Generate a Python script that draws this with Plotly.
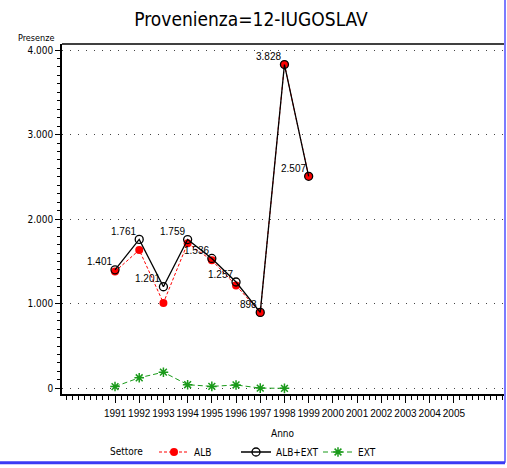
import plotly.graph_objects as go

anni = [1991, 1992, 1993, 1994, 1995, 1996, 1997, 1998, 1999]
alb_ext = [1401, 1761, 1201, 1759, 1536, 1257, 898, 3828, 2507]
alb = [1380, 1636, 1010, 1716, 1513, 1217, 895, 3828, 2507]
anni_ext = [1991, 1992, 1993, 1994, 1995, 1996, 1997, 1998]
ext = [21, 125, 191, 43, 23, 40, 3, 0]
tick_anni = list(range(1991, 2006))
etichette = ['{:,}'.format(v).replace(',', '.') for v in alb_ext]

FONT = "DejaVu Sans Condensed, Liberation Sans Narrow, DejaVu Sans, sans-serif"
NARROW = "Liberation Sans, Arial, sans-serif"
W, H = 507, 468
L, R, T, B = 62, 3, 44, 73

fig = go.Figure()

fig.add_trace(go.Scatter(
    x=anni, y=alb, name='ALB', mode='lines+markers',
    line=dict(color='#ff0000', width=1, dash='3px,2px'),
    marker=dict(symbol='circle', size=8, color='#ff0000'),
))
fig.add_trace(go.Scatter(
    x=anni, y=alb_ext, name='ALB+EXT', mode='lines+markers',
    line=dict(color='black', width=1.3),
    marker=dict(symbol='circle-open', size=8, color='black', line=dict(width=1.3)),
))
fig.add_trace(go.Scatter(
    x=anni_ext, y=ext, name='EXT', mode='lines+markers',
    line=dict(color='#1a9a1a', width=1, dash='5px,3px'),
    marker=dict(symbol='asterisk-open', size=8, color='#1a9a1a', line=dict(width=1.5, color='#1a9a1a')),
))

# etichette dei valori ALB+EXT, in alto a sinistra del punto
for a, v, t in zip(anni, alb_ext, etichette):
    fig.add_annotation(x=a, y=v, text=t, showarrow=False, xanchor='right', yanchor='middle',
                       xshift=-1, yshift=8, font=dict(family=NARROW, size=10, color='black'))

pw = W - L - R
ph = H - T - B

fig.update_layout(
    width=W, height=H,
    margin=dict(l=L, r=R, t=T, b=B),
    paper_bgcolor='white', plot_bgcolor='white',
    separators=',.',
    font=dict(family=FONT, size=10, color='black'),
    title=dict(text='Provenienza=12-IUGOSLAV', x=251 / W,
               xanchor='center', y=1 - 19 / H, yanchor='middle',
               font=dict(family=FONT, size=19, color='black')),
    xaxis=dict(
        range=[1988.81, 2007.07], tickvals=tick_anni, ticktext=[str(a) for a in tick_anni],
        tickangle=0, ticklabelstandoff=2,
        showgrid=False, zeroline=False,
        showline=True, linecolor='black', linewidth=1.5, mirror=False,
        ticks='outside', ticklen=7, tickcolor='black', tickwidth=1.3,
        minor=dict(dtick=0.25, tick0=1991, ticks='outside', ticklen=4, tickcolor='black', showgrid=False),
        tickfont=dict(family=NARROW, size=10),
    ),
    yaxis=dict(
        range=[-67, 4071], tickvals=[0, 1000, 2000, 3000, 4000], tickformat=',d',
        showgrid=True, gridcolor='#444444', gridwidth=1.2, griddash='1px,7px',
        zeroline=False, showline=True, linecolor='black', linewidth=1.5,
        ticks='outside', ticklen=5, tickcolor='black', tickwidth=1.3,
        minor=dict(dtick=100, ticks='outside', ticklen=3, tickcolor='black', showgrid=False),
        tickfont=dict(family=FONT, size=10),
    ),
    showlegend=True,
    legend=dict(
        orientation='h', x=(154 - L) / pw, xanchor='left', y=-57 / ph, yanchor='middle',
        font=dict(family=FONT, size=10),
        entrywidth=37, entrywidthmode='pixels',
        bgcolor='rgba(0,0,0,0)', itemclick=False,
    ),
)

# cornice superiore nera del grafico
fig.add_shape(type='line', xref='paper', yref='paper', x0=0, x1=1, y0=1, y1=1,
              line=dict(color='black', width=1.5))

# bordo blu della finestra
blu = '#3a3af5'
fig.add_shape(type='line', xref='paper', yref='paper',
              x0=-L / pw, x1=(505 - L) / pw, y0=(H - T - 1) / ph, y1=(H - T - 1) / ph,
              line=dict(color=blu, width=2))
fig.add_shape(type='line', xref='paper', yref='paper',
              x0=(505 - L) / pw, x1=(505 - L) / pw, y0=-(464 - T - ph) / ph, y1=(H - T) / ph,
              line=dict(color='#7b7bff', width=2))
fig.add_shape(type='line', xref='paper', yref='paper',
              x0=-L / pw, x1=(505 - L) / pw, y0=-(464 - T - ph) / ph, y1=-(464 - T - ph) / ph,
              line=dict(color=blu, width=3))

fig.add_annotation(text='Presenze', xref='paper', yref='paper', x=0, y=1,
                   xanchor='right', yanchor='bottom', xshift=-6, yshift=-1, showarrow=False,
                   font=dict(family=FONT, size=9))
fig.add_annotation(text='Anno', xref='paper', yref='paper', x=(283 - L) / pw, y=0,
                   xanchor='center', yanchor='middle', yshift=-39, showarrow=False,
                   font=dict(family=FONT, size=10))
fig.add_annotation(text='Settore', xref='paper', yref='paper', x=(108 - L) / pw, y=0,
                   xanchor='left', yanchor='middle', yshift=-57, showarrow=False,
                   font=dict(family=FONT, size=10))

# il body della pagina ha un margine di 8px: lo azzero
fig.write_html("out.html", config={'displayModeBar': False},
               post_script="document.body.style.margin='0';")
